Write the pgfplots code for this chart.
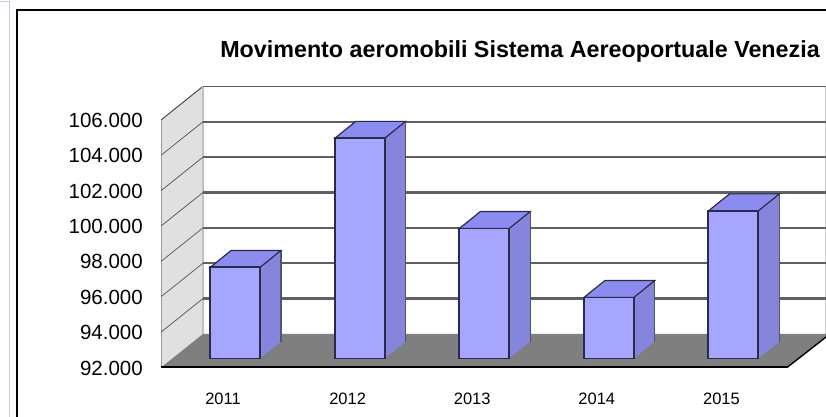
\documentclass[border=0pt]{standalone}
\usepackage{pgfplots}
\pgfplotsset{compat=1.18}
\usepackage{fontspec}
\setmainfont{Liberation Sans}
\definecolor{barfront}{HTML}{A6A6FF}
\definecolor{barside}{HTML}{8585DD}
\definecolor{bartop}{HTML}{8C8CF0}
\definecolor{baredge}{HTML}{2A2A4A}
\definecolor{sideedge}{HTML}{55556A}
\definecolor{wallgrey}{HTML}{E0E0E0}
\definecolor{floorgrey}{HTML}{7F7F7F}
\definecolor{gridgrey}{HTML}{606060}
\begin{document}
\begin{tikzpicture}[x=1pt,y=1pt]
\useasboundingbox (0,0) rectangle (826,417);
% page frame
\draw[color={rgb,255:red,190;green,205;blue,230},line width=1pt] (0,415.5) -- (9.5,415.5) -- (9.5,0);
\draw[black,line width=2pt] (17,0) -- (17,407) -- (826,407);
% walls, floor, value scale (front plane)
\begin{axis}[
  at={(161pt,49.5pt)},anchor=south west,
  scale only axis,width=665pt,height=367.5pt,
  xmin=161,xmax=826,ymin=92000,ymax=112786,
  axis line style={draw=none},major tick length=0,
  xtick=\empty,
  ytick={92000,94000,96000,98000,100000,102000,104000,106000},
  scaled y ticks=false,
  /pgf/number format/.cd,fixed,1000 sep={.},assume math mode=true,
  /pgfplots/.cd,
  yticklabel style={font=\fontsize{20.5}{20.5}\selectfont,inner xsep=0pt,xshift=-18pt,yshift=-0.5pt},
]
\addplot[fill=white,draw=none] coordinates {(203,93900)(826,93900)(826,107900)(203,107900)} -- cycle;
\addplot[fill=wallgrey,draw=none] coordinates {(161,92000)(203,93900)(203,107900)(161,106000)} -- cycle;
\addplot[color=black!70,line width=1pt] coordinates {(161,106000)(203,107900)};
\addplot[color=black!40,line width=1.6pt] coordinates {(161,92000)(161,106000)};
\addplot[color=black!25,line width=1.6pt] coordinates {(203,93900)(203,107900)};
\addplot[color=black!20,line width=1pt] coordinates {(825.5,93900)(825.5,107900)};
\addplot[color=gridgrey,line width=1pt] coordinates {(203,107900)(826,107900)};
\addplot[color=gridgrey,line width=2.2pt] coordinates {(203,105900)(826,105900)};
\addplot[color=gridgrey,line width=2.2pt] coordinates {(203,103900)(826,103900)};
\addplot[color=gridgrey,line width=2.2pt] coordinates {(203,101900)(826,101900)};
\addplot[color=gridgrey,line width=2.2pt] coordinates {(203,99900)(826,99900)};
\addplot[color=gridgrey,line width=2.2pt] coordinates {(203,97900)(826,97900)};
\addplot[color=gridgrey,line width=2.2pt] coordinates {(203,95900)(826,95900)};
\addplot[color=gridgrey,line width=0.8pt] coordinates {(161,104000)(203,105900)};
\addplot[color=gridgrey,line width=0.8pt] coordinates {(161,102000)(203,103900)};
\addplot[color=gridgrey,line width=0.8pt] coordinates {(161,100000)(203,101900)};
\addplot[color=gridgrey,line width=0.8pt] coordinates {(161,98000)(203,99900)};
\addplot[color=gridgrey,line width=0.8pt] coordinates {(161,96000)(203,97900)};
\addplot[color=gridgrey,line width=0.8pt] coordinates {(161,94000)(203,95900)};
\addplot[fill=floorgrey,draw=none] coordinates {(161,92000)(787,92000)(830,93900)(203,93900)} -- cycle;
\addplot[color=black,line width=2.2pt] coordinates {(161,92000)(787,92000)};
\addplot[color=black,line width=1.4pt] coordinates {(787,92000)(830,93900)};
\end{axis}
% bars (their own plane, 8.5 px in front of the wall)
\begin{axis}[
  at={(0pt,58.5pt)},anchor=south west,
  scale only axis,width=826pt,height=358.5pt,
  xmin=-1.886,xmax=4.743,ymin=92000,ymax=112277,
  axis line style={draw=none},major tick length=0,
  ytick=\empty,
  xtick={0,1,2,3,4},xticklabels={2011,2012,2013,2014,2015},
  xticklabel style={font=\fontsize{16.5}{16.5}\selectfont,inner ysep=0pt,yshift=-34pt,xshift=-12pt},
]
% side faces
\addplot[fill=barside,draw=none] coordinates {(0.2,92000)(0.369,92961)(0.369,98111)(0.2,97150)} -- cycle;
\addplot[fill=barside,draw=none] coordinates {(1.2,92000)(1.369,92961)(1.369,105411)(1.2,104450)} -- cycle;
\addplot[fill=barside,draw=none] coordinates {(2.2,92000)(2.369,92961)(2.369,100311)(2.2,99350)} -- cycle;
\addplot[fill=barside,draw=none] coordinates {(3.2,92000)(3.369,92961)(3.369,96411)(3.2,95450)} -- cycle;
\addplot[fill=barside,draw=none] coordinates {(4.2,92000)(4.369,92961)(4.369,101311)(4.2,100350)} -- cycle;
% side right edges
\addplot[color=sideedge,line width=1.3pt] coordinates {(0.369,92961)(0.369,98111)};
\addplot[color=sideedge,line width=1.3pt] coordinates {(1.369,92961)(1.369,105411)};
\addplot[color=sideedge,line width=1.3pt] coordinates {(2.369,92961)(2.369,100311)};
\addplot[color=sideedge,line width=1.3pt] coordinates {(3.369,92961)(3.369,96411)};
\addplot[color=sideedge,line width=1.3pt] coordinates {(4.369,92961)(4.369,101311)};
% top faces
\addplot[fill=bartop,draw=baredge,line width=1.2pt] coordinates {(-0.2,97150)(0.2,97150)(0.369,98111)(-0.031,98111)} -- cycle;
\addplot[fill=bartop,draw=baredge,line width=1.2pt] coordinates {(0.8,104450)(1.2,104450)(1.369,105411)(0.969,105411)} -- cycle;
\addplot[fill=bartop,draw=baredge,line width=1.2pt] coordinates {(1.8,99350)(2.2,99350)(2.369,100311)(1.969,100311)} -- cycle;
\addplot[fill=bartop,draw=baredge,line width=1.2pt] coordinates {(2.8,95450)(3.2,95450)(3.369,96411)(2.969,96411)} -- cycle;
\addplot[fill=bartop,draw=baredge,line width=1.2pt] coordinates {(3.8,100350)(4.2,100350)(4.369,101311)(3.969,101311)} -- cycle;
% front faces
\addplot[ybar,bar width=50pt,fill=barfront,draw=baredge,line width=1.9pt] coordinates {(0,97150)(1,104450)(2,99350)(3,95450)(4,100350)};
\end{axis}
\node[anchor=center,font=\bfseries\fontsize{23.3}{23.3}\selectfont,inner sep=0pt] at (520,366) {Movimento aeromobili Sistema Aereoportuale Venezia};
\end{tikzpicture}
\end{document}
